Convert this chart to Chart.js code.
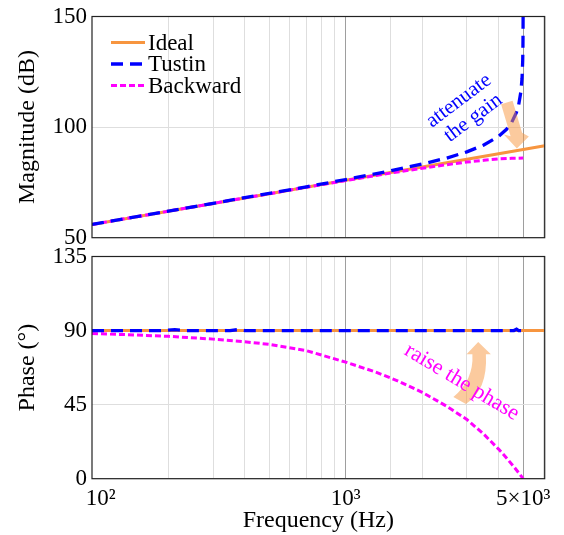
<!DOCTYPE html>
<html>
<head>
<meta charset="utf-8">
<script src="https://cdn.jsdelivr.net/npm/chart.js@4.4.0/dist/chart.umd.min.js"></script>
<style>
  html, body { margin: 0; padding: 0; background: #fff; }
  #wrap { position: relative; width: 564px; height: 535px; }
  #wrap canvas { position: absolute; left: 0; }
</style>
</head>
<body>
<div id="wrap">
  <canvas id="magChart" width="564" height="260" style="top:0"></canvas>
  <canvas id="phaseChart" width="564" height="295" style="top:240px"></canvas>
</div>
<script>
// frequency axis
const fMin = 100;
const fMax = 6080;

// magnitude (dB)
const idealFreq = [100, 200, 500, 1000, 2000, 5000, 6080];
const idealMag = [56.0, 62.0, 69.9, 76.0, 82.0, 89.9, 91.6];
const tustinFreq = [100, 150, 200, 300, 400, 500, 700, 1000, 1500, 2000, 2500, 3000, 3500, 4000, 4300, 4500, 4700, 4800, 4900, 4950, 4980, 4990, 4995, 4998, 4999];
const tustinMag = [56.0, 59.5, 62.0, 65.5, 68.1, 70.0, 73.0, 76.3, 80.2, 83.3, 86.0, 88.8, 91.9, 95.8, 99.0, 102.0, 106.5, 110.0, 116.1, 122.1, 130.1, 136.1, 142.1, 150.1, 156.0];
const backFreq = [100, 150, 200, 300, 400, 500, 700, 1000, 1500, 2000, 2500, 3000, 3500, 4000, 4500, 5000];
const backMag = [56.0, 59.5, 62.0, 65.5, 68.0, 69.9, 72.8, 75.8, 79.2, 81.4, 83.0, 84.2, 85.0, 85.6, 85.9, 86.0];

// phase (deg)
const idealPhaseFreq = [100, 6080];
const idealPhase = [90, 90];
const tustinPhaseFreq = [100, 190, 212, 235, 350, 377, 400, 1000, 2000, 3000, 4000, 4600, 4710, 4800, 5000];
const tustinPhase = [90, 90, 90.6, 90, 90, 90.6, 90, 90, 90, 90, 90, 90, 90.8, 90, 90];
const backPhaseFreq = [100, 150, 200, 300, 400, 500, 700, 1000, 1300, 1600, 2000, 2500, 3000, 3500, 4000, 4300, 4600, 4800, 5000];
const backPhase = [88.2, 87.3, 86.5, 84.8, 83.2, 81.6, 77.8, 70.8, 65.0, 59.5, 52.5, 44.0, 36.0, 27.0, 18.0, 12.6, 7.2, 3.6, 0];

const seriesNames = ['Ideal', 'Tustin', 'Backward'];
const xTickLabels = { 100: '\u00A0\u00A0\u00A010\u00B2', 1000: '10\u00B3', 5000: '5\u00D710\u00B3' };

const ORANGE = '#F7953F';
const BLUE = '#0000FF';
const MAGENTA = '#FF00FF';
const FONT = 'Liberation Serif';

Chart.defaults.font.family = FONT;
Chart.defaults.color = '#000';

function pts(xs, ys) {
    return xs.map((x, i) => ({ x: x, y: ys[i] }));
}

function makeSets(ideal, tustin, back) {
    return [
        { label: seriesNames[0], data: ideal, borderColor: ORANGE, borderWidth: 3, order: 2 },
        { label: seriesNames[1], data: tustin, borderColor: BLUE, borderWidth: 3.3, borderDash: [12, 7], order: 0 },
        { label: seriesNames[2], data: back, borderColor: MAGENTA, borderWidth: 3, borderDash: [6, 3], order: 1 }
    ].map(d => Object.assign(d, { pointRadius: 0, tension: 0, clip: 0, fill: false }));
}

function gridColor(c) {
    const v = c.tick ? Math.round(c.tick.value) : 0;
    if (v === 1000 || v === 5000) return '#9e9e9e';
    if (v <= 100 || v > 6000) return 'rgba(0,0,0,0)';
    return '#dedede';
}

// box around the plot area
const framePlugin = {
    id: 'frame',
    afterDraw(chart) {
        const a = chart.chartArea, ctx = chart.ctx;
        ctx.save();
        ctx.strokeStyle = '#222';
        ctx.lineWidth = 1.2;
        ctx.strokeRect(a.left, a.top, a.right - a.left, a.bottom - a.top);
        ctx.restore();
    }
};

const legendPlugin = {
    id: 'innerLegend',
    afterDraw(chart) {
        const a = chart.chartArea, ctx = chart.ctx;
        ctx.save();
        chart.data.datasets.forEach((d, i) => {
            const y = a.top + 26 + i * 21.5;
            ctx.strokeStyle = d.borderColor;
            ctx.lineWidth = d.borderWidth;
            ctx.setLineDash(d.borderDash || []);
            ctx.beginPath();
            ctx.moveTo(a.left + 19, y);
            ctx.lineTo(a.left + 53, y);
            ctx.stroke();
            ctx.setLineDash([]);
            ctx.fillStyle = '#000';
            ctx.font = '23px "' + FONT + '"';
            ctx.textBaseline = 'middle';
            ctx.fillText(d.label, a.left + 56, y + 1);
        });
        ctx.restore();
    }
};

function rotText(ctx, txt, x, y, deg, color, size) {
    ctx.save();
    ctx.translate(x, y);
    ctx.rotate(deg * Math.PI / 180);
    ctx.fillStyle = color;
    ctx.font = size + 'px "' + FONT + '"';
    ctx.textAlign = 'center';
    ctx.textBaseline = 'middle';
    ctx.fillText(txt, 0, 0);
    ctx.restore();
}

const magNotes = {
    id: 'magNotes',
    afterDatasetsDraw(chart) {
        const ctx = chart.ctx, xs = chart.scales.x, ys = chart.scales.y;
        // arrow, tip anchored in data units
        const tx = xs.getPixelForValue(4722), ty = ys.getPixelForValue(90.3);
        ctx.save();
        ctx.fillStyle = 'rgba(248,150,62,0.5)';
        ctx.beginPath();
        ctx.moveTo(tx - 15.75, ty - 44.3);
        ctx.lineTo(tx - 4.25, ty - 47.7);
        ctx.lineTo(tx + 5.25, ty - 15.7);
        ctx.lineTo(tx + 12, ty - 12);
        ctx.lineTo(tx, ty);
        ctx.lineTo(tx - 13, ty - 14);
        ctx.lineTo(tx - 6.25, ty - 12.3);
        ctx.closePath();
        ctx.fill();
        ctx.restore();
        rotText(ctx, 'attenuate', xs.getPixelForValue(2790), ys.getPixelForValue(111.9), -37, BLUE, 21);
        rotText(ctx, 'the gain', xs.getPixelForValue(3177), ys.getPixelForValue(104.1), -37, BLUE, 21);
    }
};

const phaseNotes = {
    id: 'phaseNotes',
    afterDatasetsDraw(chart) {
        const ctx = chart.ctx, xs = chart.scales.x, ys = chart.scales.y;
        const tx = xs.getPixelForValue(3325), ty = ys.getPixelForValue(83.1);
        ctx.save();
        ctx.fillStyle = 'rgba(248,150,62,0.5)';
        ctx.beginPath();
        ctx.moveTo(tx, ty);
        ctx.lineTo(tx + 12.7, ty + 12.3);
        ctx.lineTo(tx + 7.7, ty + 12.3);
        ctx.quadraticCurveTo(tx + 9.7, ty + 48, tx - 12.3, ty + 62);
        ctx.lineTo(tx - 24.8, ty + 55);
        ctx.quadraticCurveTo(tx - 4.3, ty + 38, tx - 5.8, ty + 12.3);
        ctx.lineTo(tx - 11.6, ty + 12.3);
        ctx.closePath();
        ctx.fill();
        ctx.restore();
        rotText(ctx, 'raise the phase', xs.getPixelForValue(2867), ys.getPixelForValue(58.6), 31, MAGENTA, 22);
    }
};

function makeOptions(cfg) {
    return {
        responsive: false,
        animation: false,
        layout: { padding: { top: cfg.padTop, right: 19.3, left: 0, bottom: 0 } },
        plugins: { legend: { display: false }, tooltip: { enabled: false } },
        scales: {
            x: {
                type: 'logarithmic',
                min: fMin,
                max: fMax,
                afterFit(s) { s.height = cfg.xHeight; },
                border: { display: false },
                grid: { color: gridColor, lineWidth: 1, drawTicks: false },
                ticks: {
                    display: cfg.showX,
                    autoSkip: false,
                    maxRotation: 0,
                    padding: 6,
                    font: { size: 23 },
                    callback: (v) => xTickLabels[Math.round(v)] || ''
                },
                title: {
                    display: cfg.showX,
                    text: 'Frequency (Hz)',
                    font: { size: 24 },
                    padding: { top: 0, bottom: 0 }
                }
            },
            y: {
                min: cfg.yMin,
                max: cfg.yMax,
                afterFit(s) { s.width = 92; },
                border: { display: false },
                grid: { color: '#dedede', drawTicks: false },
                ticks: { stepSize: cfg.yStep, padding: 5, font: { size: 23, lineHeight: 1 } },
                title: {
                    display: true,
                    text: cfg.yTitle,
                    font: { size: 24 },
                    padding: { top: 13, bottom: 0 }
                }
            }
        }
    };
}

new Chart(document.getElementById('magChart').getContext('2d'), {
    type: 'line',
    data: { datasets: makeSets(pts(idealFreq, idealMag), pts(tustinFreq, tustinMag), pts(backFreq, backMag)) },
    options: makeOptions({ padTop: 12.5, xHeight: 22.3, showX: false, yMin: 50, yMax: 150, yStep: 50, yTitle: 'Magnitude (dB)' }),
    plugins: [framePlugin, legendPlugin, magNotes]
});

new Chart(document.getElementById('phaseChart').getContext('2d'), {
    type: 'line',
    data: { datasets: makeSets(pts(idealPhaseFreq, idealPhase), pts(tustinPhaseFreq, tustinPhase), pts(backPhaseFreq, backPhase)) },
    options: makeOptions({ padTop: 13.3, xHeight: 56.3, showX: true, yMin: 0, yMax: 135, yStep: 45, yTitle: 'Phase (\u00B0)' }),
    plugins: [framePlugin, phaseNotes]
});
</script>
</body>
</html>
